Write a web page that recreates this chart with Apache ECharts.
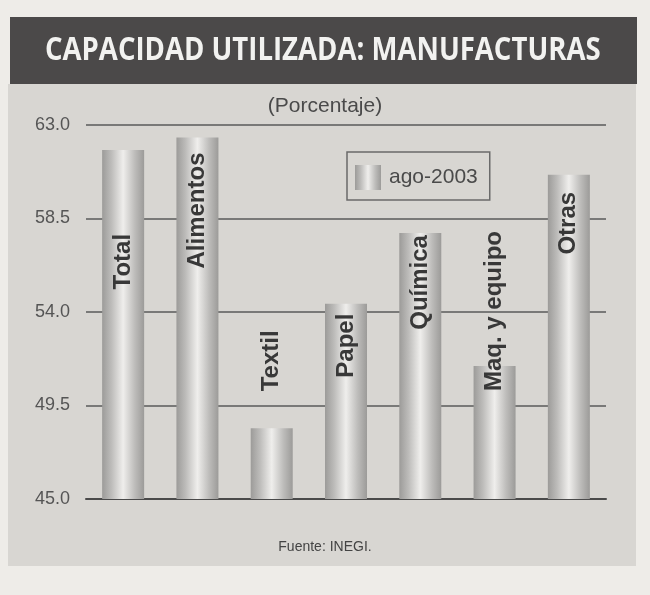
<!DOCTYPE html>
<html>
<head>
<meta charset="utf-8">
<script src="https://cdn.jsdelivr.net/npm/echarts@6/dist/echarts.min.js"></script>
<style>
  html, body { margin: 0; padding: 0; background: #eeece8; }
  #container { width: 650px; height: 595px; }
</style>
</head>
<body>
<div id="container"></div>
<script>
// datos
var categorias = ['Total', 'Alimentos', 'Textil', 'Papel', 'Química', 'Maq. y equipo', 'Otras'];
var valores = [61.8, 62.4, 48.4, 54.4, 57.8, 51.4, 60.6];
var serieNombre = 'ago-2003';
var ejeY = { min: 45.0, max: 63.0, paso: 4.5 };

// donde empieza cada rotulo, en px desde el tope de la barra
var rotuloDesde = [84, 15, -98, 10, 2, -135, 17];

var dom = document.getElementById('container');
var myChart = echarts.init(dom);

var cilindro = new echarts.graphic.LinearGradient(0, 0, 1, 0, [
  { offset: 0, color: '#9c9b99' },
  { offset: 0.22, color: '#bdbcba' },
  { offset: 0.5, color: '#efeeec' },
  { offset: 0.78, color: '#bdbcba' },
  { offset: 1, color: '#9c9b99' }
]);

var datos = valores.map(function (v, i) {
  return {
    value: v,
    label: {
      show: true,
      formatter: categorias[i],
      position: ['50%', rotuloDesde[i]],
      rotate: 90,
      align: 'right',
      verticalAlign: 'middle',
      fontFamily: 'Liberation Sans, Arial, sans-serif',
      fontWeight: 'bold',
      fontSize: 24,
      color: '#383838'
    }
  };
});

var option = {
  backgroundColor: '#eeece8',
  animation: false,
  graphic: [
    { type: 'rect', z: -10, shape: { x: 8, y: 84, width: 628, height: 482 }, style: { fill: '#d8d6d2' } },
    { type: 'rect', z: -9, shape: { x: 10, y: 17, width: 627, height: 67 }, style: { fill: '#4b4949' } },
    {
      type: 'text', z: 10, x: 45, y: 51, scaleX: 0.835,
      style: {
        x: 0, y: 0,
        text: 'CAPACIDAD UTILIZADA: MANUFACTURAS',
        fill: '#f2f2f0',
        verticalAlign: 'middle',
        font: 'bold 33px "Open Sans", sans-serif'
      }
    },
    {
      type: 'text', left: 'center', top: 96,
      style: { text: '(Porcentaje)', fill: '#4a4a4a', font: '21px "Liberation Sans", Arial, sans-serif' }
    },
    {
      type: 'text', left: 'center', top: 540,
      style: { text: 'Fuente: INEGI.', fill: '#444', font: '14px "Liberation Sans", Arial, sans-serif' }
    }
  ],
  legend: {
    left: 347,
    top: 152,
    orient: 'horizontal',
    padding: [13, 12, 10, 8],
    borderColor: '#6a6a6a',
    borderWidth: 1.5,
    icon: 'rect',
    itemWidth: 26,
    itemHeight: 25,
    itemGap: 6,
    textStyle: { fontFamily: 'Liberation Sans, Arial, sans-serif', fontSize: 21, color: '#4a4a4a', padding: [0, 0, 0, 3] },
    data: [serieNombre]
  },
  grid: { left: 86, right: 44, top: 125, bottom: 96 },
  xAxis: {
    type: 'category',
    data: categorias,
    axisLine: { show: true, lineStyle: { color: '#4a4a4a', width: 2 } },
    axisTick: { show: false },
    axisLabel: { show: false }
  },
  yAxis: {
    type: 'value',
    min: ejeY.min,
    max: ejeY.max,
    interval: ejeY.paso,
    axisLine: { show: false },
    axisTick: { show: false },
    splitLine: { lineStyle: { color: '#5a5a5a', width: 1.5 } },
    axisLabel: {
      margin: 16,
      fontFamily: 'Liberation Sans, Arial, sans-serif',
      fontSize: 18,
      color: '#555',
      formatter: function (v) { return v.toFixed(1); }
    }
  },
  series: [{
    name: serieNombre,
    type: 'bar',
    barWidth: 42,
    itemStyle: { color: cilindro },
    data: datos
  }]
};

myChart.setOption(option);
</script>
</body>
</html>
